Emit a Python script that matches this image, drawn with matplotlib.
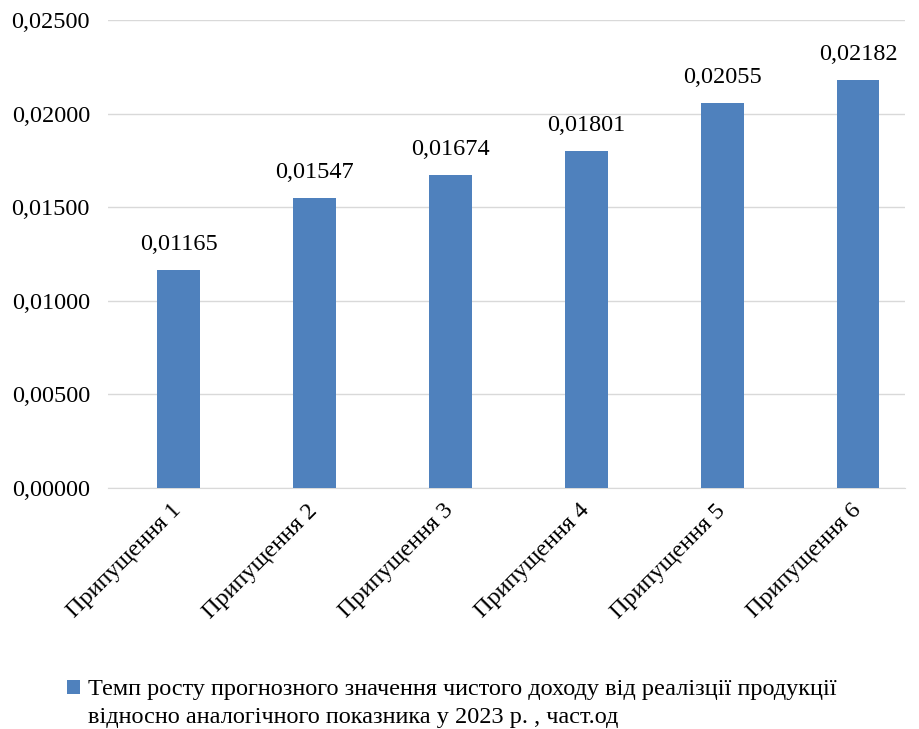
import matplotlib.pyplot as plt
from matplotlib.ticker import FuncFormatter

categories = ['Припущення 1', 'Припущення 2', 'Припущення 3',
              'Припущення 4', 'Припущення 5', 'Припущення 6']
values = [0.01165, 0.01547, 0.01674, 0.01801, 0.02055, 0.02182]
series_line1 = 'Темп росту прогнозного значення чистого доходу від реалізції продукції'
series_line2 = 'відносно аналогічного показника у 2023 р. , част.од'

plt.rcParams['font.family'] = ['Liberation Serif', 'DejaVu Serif']
fs = 17.5

fig = plt.figure(figsize=(9.19, 7.29), dpi=100)
ax = fig.add_axes([0.1175, 0.3306, 0.8673, 0.642])

x = list(range(len(categories)))
bars = ax.bar(x, values, width=0.316, color='#4F81BD', zorder=3)

for xi, v in zip(x, values):
    ax.text(xi, v + 0.0008, f'{v:.5f}'.replace('.', ','), ha='center', va='bottom', fontsize=fs)

ax.set_ylim(0, 0.025)
ax.set_yticks([0, 0.005, 0.01, 0.015, 0.02, 0.025])
ax.yaxis.set_major_formatter(FuncFormatter(lambda v, p: f'{v:.5f}'.replace('.', ',')))
ax.set_xlim(-0.519, 5.346)
ax.set_xticks(x)
ax.set_xticklabels(categories, rotation=45, ha='right', va='center', rotation_mode='anchor')
ax.tick_params(axis='both', length=0, labelsize=fs)
ax.tick_params(axis='x', pad=14)
ax.tick_params(axis='y', pad=13)
ax.grid(axis='y', color='#D9D9D9', linewidth=1, zorder=0)
for s in ['top', 'right', 'left']:
    ax.spines[s].set_visible(False)
ax.spines['bottom'].set_color('#D9D9D9')

leg = fig.legend(handles=[bars], labels=[series_line1], loc='center left',
                 bbox_to_anchor=(67 / 919, 1 - 690 / 729),
                 frameon=False, fontsize=fs, handlelength=0.55, handleheight=0.55,
                 handletextpad=0.3, borderaxespad=0, borderpad=0)
fig.canvas.draw()
bb = leg.get_texts()[0].get_window_extent()
fig.text(bb.x0 / 919, 1 - 718 / 729, series_line2, fontsize=fs, va='center', ha='left')

fig.savefig('out.png', dpi=100)
